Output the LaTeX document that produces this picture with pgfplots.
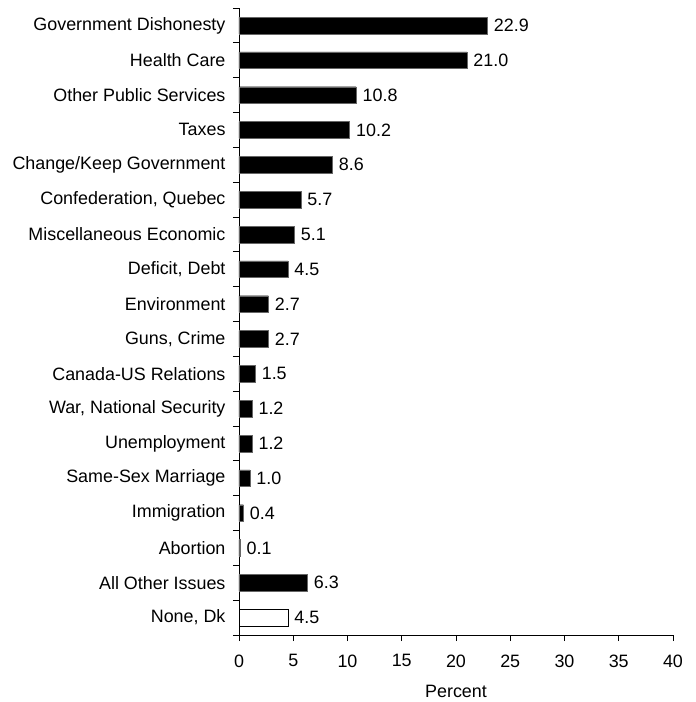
\documentclass[border=0pt]{standalone}
\usepackage{pgfplots}
\pgfplotsset{compat=1.18}
\usepackage{fontspec}
\setmainfont{Liberation Sans}
\newcommand{\cf}{\fontsize{17.9}{21}\selectfont}
\begin{document}
\begin{tikzpicture}[x=1pt,y=1pt]
\useasboundingbox (-239,-67) rectangle (457,635);
\begin{axis}[
  at={(0,0)}, anchor=south west,
  scale only axis, width=434pt, height=627pt,
  xmin=0, xmax=40, ymin=-0.5, ymax=17.5,
  y dir=reverse,
  axis x line*=bottom, axis y line*=left,
  axis line style={black, line width=0.8pt, -},
  xtick={0,5,...,40},
  ytick={-0.5,0.5,...,17.5},
  yticklabels={},
  extra y ticks={0,...,17},
  extra y tick labels={Government Dishonesty,Health Care,Other Public Services,Taxes,Change/Keep Government,{Confederation, Quebec},Miscellaneous Economic,{Deficit, Debt},Environment,{Guns, Crime},Canada-US Relations,{War, National Security},Unemployment,Same-Sex Marriage,Immigration,Abortion,All Other Issues,{None, Dk}},
  extra y tick style={major tick length=0pt, yticklabel style={xshift=-10pt}},
  tick align=outside,
  major tick length=6pt,
  every tick/.style={black, line width=0.8pt},
  tick label style={font=\cf},
  xticklabel style={yshift=-10pt},
  /pgf/number format/assume math mode=true,
  xlabel={Percent}, xlabel style={font=\cf, yshift=-11pt},
  xbar, bar width=16.7pt, bar shift=0pt,
  nodes near coords,
  nodes near coords style={font=\cf, anchor=west, xshift=3pt, /pgf/number format/fixed, /pgf/number format/fixed zerofill, /pgf/number format/precision=1, /pgf/number format/assume math mode=true},
  clip=false,
]
\addplot[fill=black, draw=black!60, line width=0.4pt] coordinates {
(22.9,0) (21.0,1) (10.8,2) (10.2,3) (8.6,4) (5.7,5) (5.1,6) (4.5,7) (2.7,8) (2.7,9) (1.5,10) (1.2,11) (1.2,12) (1.0,13) (0.4,14) (0.1,15) (6.3,16)};
\addplot[fill=white, draw=black, line width=0.6pt] coordinates {(4.5,17)};
\end{axis}
\end{tikzpicture}
\end{document}
